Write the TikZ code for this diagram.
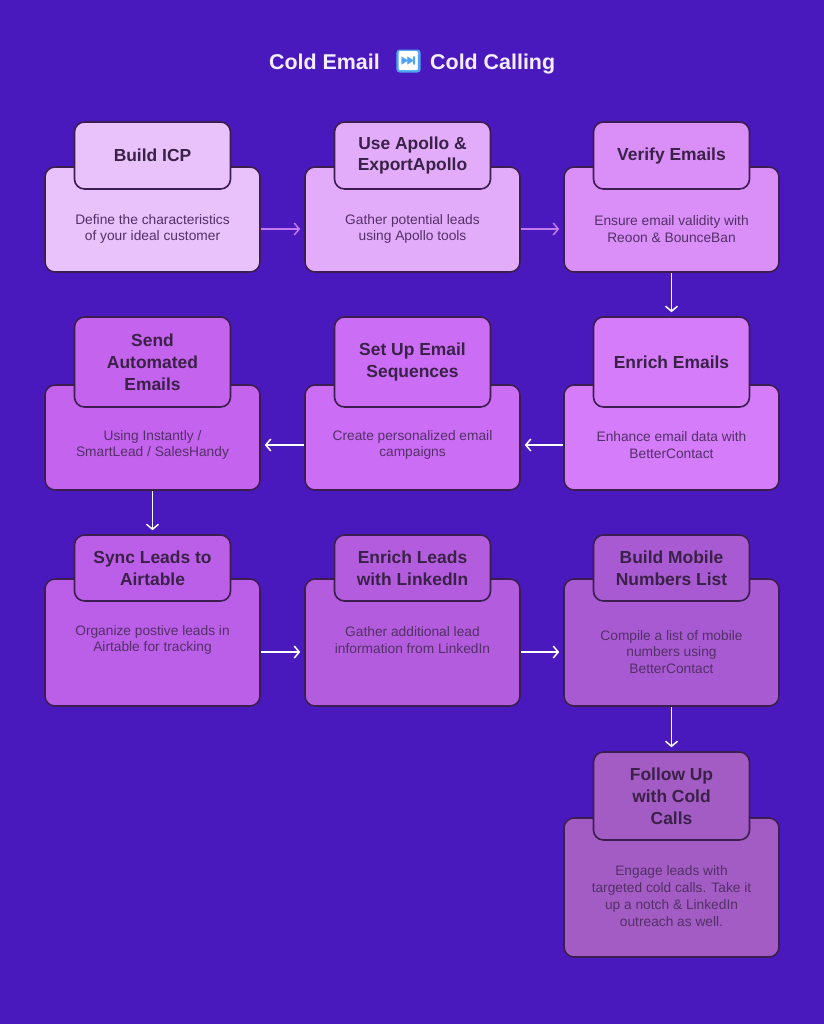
\documentclass[tikz,border=0pt]{standalone}
\usepackage{fontspec}
\setmainfont{Liberation Sans}
\newfontfamily\emojifont{Noto Emoji}
\usetikzlibrary{arrows.meta,calc}
\definecolor{bg}{HTML}{4A19BE}
\definecolor{edge}{HTML}{3B1E4F}
\definecolor{ttext}{HTML}{3A2147}
\definecolor{dtext}{HTML}{533067}
\definecolor{titlec}{HTML}{F5EEFF}
\definecolor{arrowpink}{HTML}{C47AF0}
\definecolor{emojibg}{HTML}{4DA3F5}
\definecolor{cA}{HTML}{E9C2FB}
\definecolor{cB}{HTML}{E3ACFB}
\definecolor{cC}{HTML}{D98EF8}
\definecolor{cD}{HTML}{D47CF9}
\definecolor{cE}{HTML}{CB6EF5}
\definecolor{cF}{HTML}{C463EE}
\definecolor{cG}{HTML}{BC5FE8}
\definecolor{cH}{HTML}{B35CDE}
\definecolor{cI}{HTML}{A85AD2}
\definecolor{cJ}{HTML}{A25CC4}
\tikzset{
  bigbox/.style={draw=edge, line width=1.6bp, rounded corners=10bp, minimum width=215bp, inner sep=0pt},
  tabbox/.style={draw=edge, line width=1.6bp, rounded corners=10bp, minimum width=156bp, inner sep=0pt,
    font=\fontsize{17.5}{22}\selectfont\bfseries, text=ttext, align=center},
  desc/.style={font=\fontsize{13.8}{16.8}\selectfont, text=dtext, align=center, inner sep=0pt},
  flow/.style={-{Straight Barb[length=5bp,width=12bp]}, line width=1.5bp, draw=white},
  flowpink/.style={flow, draw=arrowpink},
  titletext/.style={font=\fontsize{21.5}{26}\selectfont\bfseries, text=titlec, inner sep=0pt},
}
% name, cx, tabTop, tabBot, bigBot, descY, colour, title, description
\newcommand\flowstep[9]{%
  \pgfmathsetmacro\fsbh{#5-#4+22}%
  \pgfmathsetmacro\fsby{(#4-22+#5)/2}%
  \pgfmathsetmacro\fsth{#4-#3}%
  \pgfmathsetmacro\fsty{(#3+#4)/2}%
  \node[bigbox, fill=#7, minimum height=\fsbh bp] (#1) at (#2,\fsby) {};
  \node[tabbox, fill=#7, minimum height=\fsth bp] (#1t) at (#2,\fsty) {#8};
  \node[desc] (#1d) at (#2,#6) {#9};
}
\begin{document}
\begin{tikzpicture}[x=1bp,y=-1bp]
\fill[bg] (0,0) rectangle (824,1024);
\useasboundingbox (0,0) rectangle (824,1024);

% title
\node[titletext, anchor=base east] (t1) at (380,69) {Cold Email};
\node[fill=emojibg, rounded corners=3bp, minimum size=23bp, inner sep=0pt, text=white,
      font=\emojifont\fontsize{19}{19}\selectfont] (em) at (408.5,61) {⏭};
\node[titletext, anchor=base west] (t2) at (430,69) {Cold Calling};

% row 1
\flowstep{b1}{152.5}{122}{189}{272}{229}{cA}{Build ICP}{Define the characteristics\\of your ideal customer}
\flowstep{b2}{412.5}{122}{189}{272}{229}{cB}{Use Apollo \&\\ExportApollo}{Gather potential leads\\using Apollo tools}
\flowstep{b3}{671.5}{122}{189}{272}{229}{cC}{Verify Emails}{Ensure email validity with\\Reoon \& BounceBan}
% row 2
\flowstep{b4}{671.5}{317}{407}{490}{445}{cD}{Enrich Emails}{Enhance email data with\\BetterContact}
\flowstep{b5}{412.5}{317}{407}{490}{445}{cE}{Set Up Email\\Sequences}{Create personalized email\\campaigns}
\flowstep{b6}{152.5}{317}{407}{490}{445}{cF}{Send\\Automated\\Emails}{Using Instantly /\\SmartLead / SalesHandy}
% row 3
\flowstep{b7}{152.5}{535}{601}{706}{640}{cG}{Sync Leads to\\Airtable}{Organize postive leads in\\Airtable for tracking}
\flowstep{b8}{412.5}{535}{601}{706}{640}{cH}{Enrich Leads\\with LinkedIn}{Gather additional lead\\information from LinkedIn}
\flowstep{b9}{671.5}{535}{601}{706}{652}{cI}{Build Mobile\\Numbers List}{Compile a list of mobile\\numbers using\\BetterContact}
% row 4
\flowstep{b10}{671.5}{752}{840}{957}{896}{cJ}{Follow Up\\with Cold\\Calls}{Engage leads with\\targeted cold calls. Take it\\up a notch \& LinkedIn\\outreach as well.}

% connectors
\draw[flowpink, shorten >=4bp] (b1.east |- b1d) -- (b2.west |- b1d);
\draw[flowpink, shorten >=4bp] (b2.east |- b2d) -- (b3.west |- b2d);
\draw[flow, shorten >=4bp] (b3.south) -- (b4t.north);
\draw[flow, shorten >=4bp] (b4.west |- b4d) -- (b5.east |- b4d);
\draw[flow, shorten >=4bp] (b5.west |- b5d) -- (b6.east |- b5d);
\draw[flow, shorten >=4bp] (b6.south) -- (b7t.north);
\draw[flow, shorten >=4bp] (b7.east |- b9d) -- (b8.west |- b9d);
\draw[flow, shorten >=4bp] (b8.east |- b9d) -- (b9.west |- b9d);
\draw[flow, shorten >=4bp] (b9.south) -- (b10t.north);
\end{tikzpicture}
\end{document}
